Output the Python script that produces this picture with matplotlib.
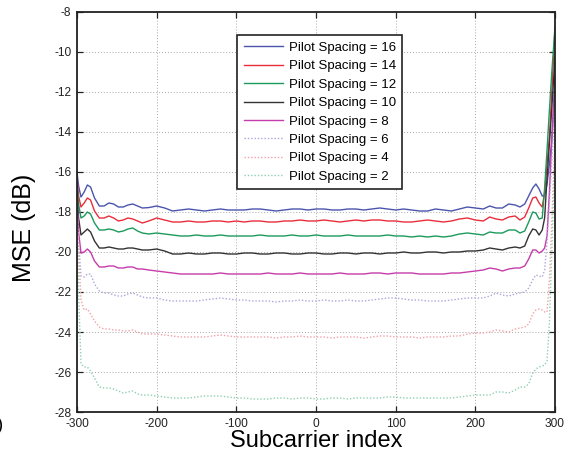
import matplotlib
matplotlib.use("Agg")
import matplotlib.pyplot as plt

plt.rcParams["font.family"] = ["Liberation Sans", "DejaVu Sans"]
plt.rcParams["axes.unicode_minus"] = False

# Subcarrier indices at which the MSE curves are sampled
subcarrier = [-300, -298, -295, -291, -287, -283, -278, -272, -266, -260,
              -254, -248, -242, -236, -230, -224, -218, -210, -200, -190,
              -180, -170, -160, -150, -140, -130, -120, -110, -100, -90,
              -80, -70, -60, -50, -40, -30, -20, -10, 0, 10,
              20, 30, 40, 50, 60, 70, 80, 90, 100, 110,
              120, 130, 140, 150, 160, 170, 180, 190, 200, 210,
              218, 226, 234, 242, 250, 256, 262, 267, 272, 276,
              280, 284, 287, 290, 293, 296, 300]

mse_ps16 = [-16.0, -16.7, -17.25, -17.0, -16.65, -16.75, -17.3, -17.7, -17.7, -17.55,
            -17.6, -17.75, -17.75, -17.65, -17.6, -17.7, -17.8, -17.78, -17.7, -17.8,
            -17.95, -17.9, -17.85, -17.9, -17.95, -17.9, -17.85, -17.9, -17.9, -17.9,
            -17.85, -17.85, -17.9, -17.95, -17.9, -17.85, -17.85, -17.9, -17.85, -17.85,
            -17.9, -17.9, -17.85, -17.85, -17.9, -17.85, -17.8, -17.85, -17.9, -17.85,
            -17.9, -17.95, -17.95, -17.85, -17.9, -17.95, -17.85, -17.75, -17.8, -17.85,
            -17.7, -17.8, -17.8, -17.6, -17.65, -17.75, -17.6, -17.2, -16.8, -16.6,
            -16.85, -17.2, -17.2, -16.6, -15.6, -14.4, -11.25]

mse_ps14 = [-16.3, -17.2, -17.75, -17.55, -17.3, -17.4, -17.95, -18.3, -18.3, -18.2,
            -18.3, -18.45, -18.4, -18.3, -18.35, -18.45, -18.55, -18.45, -18.3, -18.4,
            -18.5, -18.5, -18.45, -18.5, -18.5, -18.45, -18.45, -18.5, -18.45, -18.5,
            -18.45, -18.45, -18.5, -18.5, -18.45, -18.45, -18.4, -18.45, -18.45, -18.4,
            -18.45, -18.5, -18.45, -18.4, -18.45, -18.4, -18.4, -18.45, -18.45, -18.5,
            -18.5, -18.45, -18.4, -18.45, -18.5, -18.45, -18.35, -18.3, -18.4, -18.45,
            -18.25, -18.35, -18.4, -18.25, -18.2, -18.4, -18.25, -17.8, -17.3, -17.25,
            -17.55, -17.75, -17.0, -15.6, -14.2, -12.0, -8.8]

mse_ps12 = [-16.6, -17.6, -18.3, -18.2, -18.0, -18.1, -18.55, -18.9, -18.9, -18.85,
            -18.9, -19.0, -18.95, -18.85, -18.8, -18.95, -19.05, -19.1, -19.05, -19.1,
            -19.15, -19.2, -19.2, -19.15, -19.2, -19.2, -19.15, -19.2, -19.2, -19.2,
            -19.2, -19.15, -19.2, -19.2, -19.2, -19.15, -19.2, -19.2, -19.15, -19.2,
            -19.2, -19.2, -19.15, -19.2, -19.2, -19.2, -19.2, -19.15, -19.2, -19.2,
            -19.25, -19.2, -19.25, -19.2, -19.25, -19.2, -19.1, -19.05, -19.1, -19.15,
            -19.0, -19.05, -19.05, -18.9, -18.9, -19.05, -18.95, -18.5, -18.0, -18.05,
            -18.35, -18.3, -16.8, -14.9, -12.9, -11.0, -8.75]

mse_ps10 = [-17.0, -18.3, -19.15, -19.0, -18.85, -19.0, -19.45, -19.8, -19.8, -19.75,
            -19.8, -19.85, -19.85, -19.8, -19.8, -19.85, -19.9, -19.9, -19.85, -19.95,
            -20.1, -20.1, -20.05, -20.1, -20.1, -20.05, -20.05, -20.1, -20.1, -20.05,
            -20.05, -20.1, -20.1, -20.05, -20.05, -20.1, -20.1, -20.05, -20.05, -20.1,
            -20.1, -20.05, -20.05, -20.1, -20.05, -20.05, -20.1, -20.05, -20.05, -20.0,
            -20.05, -20.05, -20.0, -20.0, -20.05, -20.0, -20.0, -19.95, -19.95, -19.9,
            -19.8, -19.85, -19.9, -19.8, -19.75, -19.8, -19.7, -19.2, -18.85, -18.9,
            -19.15, -18.9, -18.3, -16.3, -14.6, -12.8, -10.25]

mse_ps8 = [-17.3, -19.0, -20.05, -20.0, -19.85, -20.0, -20.45, -20.75, -20.75, -20.7,
           -20.7, -20.8, -20.8, -20.75, -20.75, -20.85, -20.85, -20.9, -20.95, -21.0,
           -21.05, -21.1, -21.1, -21.1, -21.1, -21.1, -21.05, -21.1, -21.1, -21.1,
           -21.1, -21.1, -21.05, -21.1, -21.1, -21.1, -21.05, -21.1, -21.1, -21.1,
           -21.1, -21.05, -21.1, -21.1, -21.1, -21.05, -21.05, -21.1, -21.05, -21.05,
           -21.05, -21.1, -21.1, -21.1, -21.1, -21.05, -21.05, -21.0, -20.95, -20.9,
           -20.8, -20.85, -20.95, -20.85, -20.8, -20.8, -20.7, -20.35, -19.9, -19.9,
           -20.05, -19.95, -19.8, -19.2, -17.0, -14.4, -11.75]

mse_ps6 = [-17.5, -19.5, -21.2, -21.25, -21.1, -21.1, -21.6, -21.95, -22.05, -22.05,
           -22.15, -22.2, -22.2, -22.1, -22.05, -22.15, -22.25, -22.3, -22.3, -22.4,
           -22.45, -22.45, -22.45, -22.45, -22.4, -22.35, -22.3, -22.35, -22.4, -22.4,
           -22.45, -22.45, -22.45, -22.5, -22.45, -22.45, -22.4, -22.45, -22.45, -22.4,
           -22.45, -22.45, -22.4, -22.45, -22.45, -22.4, -22.35, -22.3, -22.3, -22.35,
           -22.4, -22.4, -22.45, -22.45, -22.45, -22.4, -22.35, -22.3, -22.3, -22.3,
           -22.2, -22.05, -22.15, -22.2, -22.1, -22.05, -22.0, -21.8, -21.4, -21.15,
           -21.2, -21.25, -20.9, -19.5, -17.5, -15.5, -12.5]

mse_ps4 = [-18.0, -20.0, -22.4, -22.9, -22.85, -23.1, -23.45, -23.75, -23.85, -23.85,
           -23.9, -23.9, -23.95, -23.95, -23.9, -24.0, -24.1, -24.1, -24.1, -24.15,
           -24.2, -24.25, -24.25, -24.25, -24.25, -24.2, -24.15, -24.2, -24.25, -24.25,
           -24.25, -24.25, -24.25, -24.3, -24.25, -24.25, -24.2, -24.25, -24.25, -24.25,
           -24.3, -24.25, -24.25, -24.25, -24.3, -24.25, -24.2, -24.2, -24.25, -24.25,
           -24.25, -24.3, -24.25, -24.25, -24.25, -24.2, -24.2, -24.1, -24.05, -24.05,
           -24.0, -23.9, -23.95, -24.0, -23.85, -23.8, -23.75, -23.6, -23.1, -22.9,
           -22.85, -22.9, -23.0, -23.0, -21.4, -18.5, -14.0]

mse_ps2 = [-18.5, -22.0, -25.6, -25.75, -25.75, -25.95, -26.3, -26.75, -26.8, -26.8,
           -26.85, -26.95, -27.05, -27.0, -26.95, -27.1, -27.15, -27.15, -27.2, -27.25,
           -27.3, -27.3, -27.3, -27.25, -27.2, -27.2, -27.2, -27.25, -27.3, -27.3,
           -27.35, -27.35, -27.35, -27.3, -27.3, -27.35, -27.3, -27.3, -27.35, -27.35,
           -27.3, -27.3, -27.35, -27.3, -27.3, -27.3, -27.3, -27.25, -27.25, -27.3,
           -27.3, -27.3, -27.3, -27.3, -27.3, -27.3, -27.25, -27.2, -27.15, -27.15,
           -27.15, -27.0, -27.0, -27.05, -26.9, -26.75, -26.75, -26.6, -26.05, -25.85,
           -25.75, -25.7, -25.65, -25.45, -23.5, -20.0, -15.0]

labels = ["Pilot Spacing = 16", "Pilot Spacing = 14", "Pilot Spacing = 12",
          "Pilot Spacing = 10", "Pilot Spacing = 8", "Pilot Spacing = 6",
          "Pilot Spacing = 4", "Pilot Spacing = 2"]

series = [mse_ps16, mse_ps14, mse_ps12, mse_ps10, mse_ps8, mse_ps6, mse_ps4, mse_ps2]
colors = ["#4a55ad", "#ea2d3c", "#1c9a5c", "#333333", "#c53caa",
          "#a9a6dc", "#f3a0a6", "#8fd0b0"]
dotted = (0, (1, 1.4))
styles = ["-", "-", "-", "-", "-", dotted, dotted, dotted]

W, H = 570, 461
fig = plt.figure(figsize=(W / 100, H / 100), dpi=100)
ax = fig.add_axes([77 / W, 1 - 412 / H, 478 / W, 400 / H])

for y, c, ls, lab in zip(series, colors, styles, labels):
    ax.plot(subcarrier, y, color=c, linestyle=ls, linewidth=1.0, label=lab)

ax.set_xlim(-300, 300)
ax.set_ylim(-28, -8)
ax.set_xticks(range(-300, 301, 100))
ax.set_yticks(range(-28, -7, 2))

ax.grid(True, color="#a8a8a8", linestyle=(0, (1, 2)), linewidth=0.7)
ax.set_axisbelow(True)
ax.tick_params(direction="in", length=4, width=0.9, top=True, right=True,
               labelsize=8.6, pad=4, colors="#222222")
for sp in ax.spines.values():
    sp.set_linewidth(1.3)
    sp.set_color("#222222")

ax.set_xlabel("Subcarrier index", fontsize=17)
ax.set_ylabel("MSE (dB)", fontsize=18)
ax.xaxis.set_label_coords(0.5, -0.045)
ax.yaxis.set_label_coords(-0.085, 0.46)

leg = ax.legend(loc="upper left", bbox_to_anchor=(0.335, 0.9425),
                borderaxespad=0, fancybox=False, fontsize=9.5,
                handlelength=3.0, handletextpad=0.4, labelspacing=0.47,
                borderpad=0.5, framealpha=1)
leg.get_frame().set_edgecolor("#222222")
leg.get_frame().set_linewidth(1.2)

fig.text(4 / W, 1 - 425 / H, "(a)", ha="right", va="center", fontsize=13)

fig.savefig("out.png", dpi=100)
